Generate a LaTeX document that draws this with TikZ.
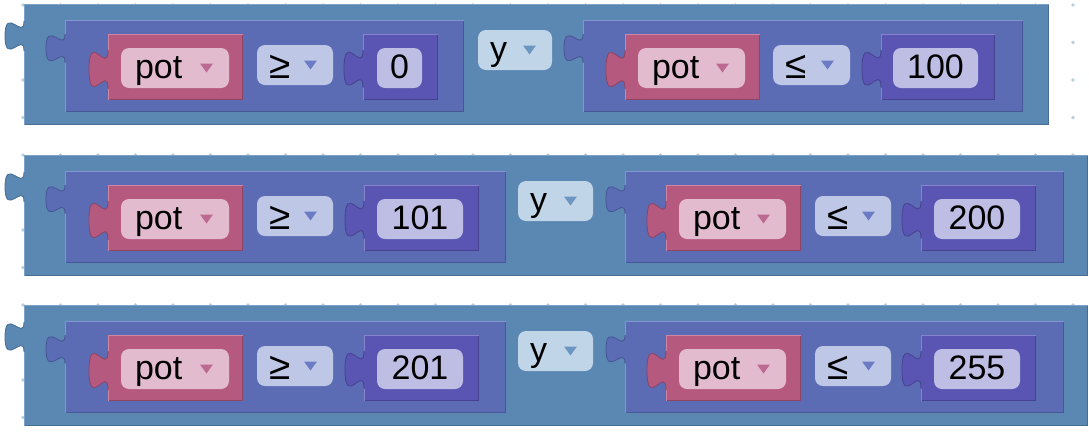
\documentclass[tikz,border=0pt]{standalone}
\usepackage{fontspec}
\setmainfont{Liberation Sans}

% block colours
\definecolor{gridC}{HTML}{B9CDDB}
\definecolor{outerC}{HTML}{5B87B3}
\definecolor{outerL}{HTML}{7DA2C8}
\definecolor{outerD}{HTML}{466D94}
\definecolor{innerC}{HTML}{5B6CB5}
\definecolor{innerL}{HTML}{8594D0}
\definecolor{innerD}{HTML}{475694}
\definecolor{pinkC}{HTML}{B5597F}
\definecolor{pinkL}{HTML}{CF86A5}
\definecolor{pinkD}{HTML}{8E4464}
\definecolor{numC}{HTML}{5A55B2}
\definecolor{numL}{HTML}{8682CE}
\definecolor{numD}{HTML}{46428F}
\definecolor{potP}{HTML}{E3BBCF}
\definecolor{opP}{HTML}{BFC7E6}
\definecolor{numP}{HTML}{BEBDE4}
\definecolor{yP}{HTML}{C1D5E8}
\definecolor{pinkT}{HTML}{BC6A92}
\definecolor{opT}{HTML}{6C7CC4}
\definecolor{yT}{HTML}{6C95C2}

% rectangular block body: x1 y1 x2 y2 fill light dark
\newcommand\blkbox[7]{%
  \fill[#5] (#1,#2) rectangle (#3,#4);
  \draw[#7, line width=1pt] (#1,#4-0.7) -- (#3-0.7,#4-0.7) -- (#3-0.7,#2);
  \draw[#6, line width=1pt] (#1+0.7,#4) -- (#1+0.7,#2+0.7) -- (#3,#2+0.7);
}
% puzzle output tab on the left edge: x y scale fill dark
\newcommand\blktab[5]{%
  \fill[#4] (#1+2.5,#2) -- (#1,#2)
    .. controls (#1,#2+20*#3) and (#1-19,#2-16*#3) .. (#1-19,#2+15*#3)
    .. controls (#1-19,#2+46*#3) and (#1,#2+10*#3) .. (#1,#2+30*#3)
    -- (#1+2.5,#2+30*#3) -- cycle;
  \draw[#5, line width=0.6pt] (#1,#2)
    .. controls (#1,#2+20*#3) and (#1-19,#2-16*#3) .. (#1-19,#2+15*#3)
    .. controls (#1-19,#2+46*#3) and (#1,#2+10*#3) .. (#1,#2+30*#3);
}
% rounded field: x1 y1 x2 y2 fill
\newcommand\pillbox[5]{%
  \fill[#5, rounded corners=6pt] (#1,#2) rectangle (#3,#4);
}
% dropdown arrow: right x, centre y, colour
\newcommand\droptri[3]{%
  \fill[#3] (#1-13,#2-4.5) -- (#1,#2-4.5) -- (#1-6.5,#2+4.5) -- cycle;
}

\begin{document}
\begin{tikzpicture}[x=0.75pt,y=-0.75pt,
  lbl/.style={inner sep=0pt, outer sep=0pt, text=black,
    font=\fontsize{25.5}{30}\selectfont},
  oplbl/.style={lbl, font=\fontsize{29}{32}\selectfont}]
\useasboundingbox (0,0) rectangle (1089,433);
\fill[white] (0,0) rectangle (1089,433);

% workspace grid
\foreach \i in {0,...,29}
  \foreach \j in {0,...,11}
    \fill[gridC] (23+37.5*\i,5+37.5*\j) circle (1.4pt);

% ---------- row 1: pot >= 0 y pot <= 100
\blkbox{24}{4}{1049}{125}{outerC}{outerL}{outerD}
\blktab{24}{21}{1.0}{outerC}{outerD}
\blkbox{65}{20}{464}{112}{innerC}{innerL}{innerD}
\blktab{65}{34}{0.95}{innerC}{innerD}
\blkbox{108}{34}{243}{100}{pinkC}{pinkL}{pinkD}
\blktab{108}{50}{1.3}{pinkC}{pinkD}
\pillbox{121}{48}{229}{88}{potP}
\node[lbl, anchor=base west] (a1pot) at (135,78) {pot};
\droptri{213}{68}{pinkT}
\pillbox{257}{45}{333}{85}{opP}
\node[oplbl, anchor=base west] (a1op) at (269,78) {≥};
\droptri{317}{65}{opT}
\blkbox{363}{34}{438}{100}{numC}{numL}{numD}
\blktab{363}{50}{1.25}{numC}{numD}
\pillbox{377}{48}{422}{88}{numP}
\node[lbl, anchor=base] (a1num) at (399.5,78) {0};
\pillbox{478}{30}{552}{70}{yP}
\node[lbl, anchor=base west] (a1and) at (490,60) {y};
\droptri{536}{50}{yT}
\blkbox{583}{20}{1023}{112}{innerC}{innerL}{innerD}
\blktab{583}{34}{0.95}{innerC}{innerD}
\blkbox{625}{34}{760}{100}{pinkC}{pinkL}{pinkD}
\blktab{625}{50}{1.3}{pinkC}{pinkD}
\pillbox{638}{48}{745}{88}{potP}
\node[lbl, anchor=base west] (b1pot) at (652,78) {pot};
\droptri{729}{68}{pinkT}
\pillbox{773}{45}{850}{85}{opP}
\node[oplbl, anchor=base west] (b1op) at (785,78) {≤};
\droptri{834}{65}{opT}
\blkbox{881}{34}{995}{100}{numC}{numL}{numD}
\blktab{881}{50}{1.25}{numC}{numD}
\pillbox{893}{48}{978}{88}{numP}
\node[lbl, anchor=base] (b1num) at (935.5,78) {100};

% ---------- rows 2 and 3 share one layout
\foreach \r/\dy/\lo/\hi in {2/151/101/200, 3/301/201/255}{
\begin{scope}[shift={(0,\dy)}]
\blkbox{24}{4}{1088}{125}{outerC}{outerL}{outerD}
\blktab{24}{21}{1.0}{outerC}{outerD}
\blkbox{65}{20}{506}{112}{innerC}{innerL}{innerD}
\blktab{65}{34}{0.95}{innerC}{innerD}
\blkbox{108}{34}{243}{100}{pinkC}{pinkL}{pinkD}
\blktab{108}{50}{1.3}{pinkC}{pinkD}
\pillbox{121}{48}{229}{88}{potP}
\node[lbl, anchor=base west] (a\r pot) at (135,78) {pot};
\droptri{213}{68}{pinkT}
\pillbox{257}{45}{333}{85}{opP}
\node[oplbl, anchor=base west] (a\r op) at (269,78) {≥};
\droptri{317}{65}{opT}
\blkbox{364}{34}{479}{100}{numC}{numL}{numD}
\blktab{364}{50}{1.25}{numC}{numD}
\pillbox{377}{48}{463}{88}{numP}
\node[lbl, anchor=base] (a\r num) at (420,78) {\lo};
\pillbox{518}{30}{593}{70}{yP}
\node[lbl, anchor=base west] (a\r and) at (530,60) {y};
\droptri{577}{50}{yT}
\blkbox{625}{20}{1064}{112}{innerC}{innerL}{innerD}
\blktab{625}{34}{0.95}{innerC}{innerD}
\blkbox{666}{34}{801}{100}{pinkC}{pinkL}{pinkD}
\blktab{666}{50}{1.3}{pinkC}{pinkD}
\pillbox{679}{48}{786}{88}{potP}
\node[lbl, anchor=base west] (b\r pot) at (693,78) {pot};
\droptri{770}{68}{pinkT}
\pillbox{815}{45}{891}{85}{opP}
\node[oplbl, anchor=base west] (b\r op) at (827,78) {≤};
\droptri{875}{65}{opT}
\blkbox{921}{34}{1036}{100}{numC}{numL}{numD}
\blktab{921}{50}{1.25}{numC}{numD}
\pillbox{934}{48}{1020}{88}{numP}
\node[lbl, anchor=base] (b\r num) at (977,78) {\hi};
\end{scope}
}
\end{tikzpicture}
\end{document}
